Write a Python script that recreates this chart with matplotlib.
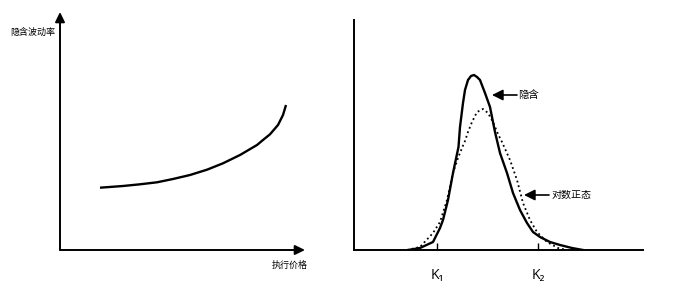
import matplotlib
matplotlib.use("Agg")
import matplotlib.pyplot as plt

plt.rcParams['font.family'] = ['Noto Sans CJK SC', 'DejaVu Sans']

# ---- data (left panel: implied volatility smile) ----
strike = [40, 63, 80, 97, 113, 130, 147, 163, 180, 197, 203, 210, 218, 223, 226]
implied_vol = [62.3, 64, 65.7, 67.7, 71, 75, 80.3, 86.7, 95, 105, 110, 115.7, 125, 135, 145]

# ---- data (right panel: densities) ----
implied_x = [54, 66, 79, 86, 89, 94, 99, 103, 104.5, 106, 109, 111, 114, 117, 120,
             123, 126, 131, 136, 141, 146, 153, 159, 166, 173, 179, 186, 196, 206,
             218, 229]
implied_y = [0, 2, 8, 22, 30, 50, 77, 96, 103, 123, 147, 160, 170, 174, 175,
             173, 170, 157, 143, 118, 97, 77, 57, 40, 27, 18, 13, 8, 5,
             2, 0]
lognorm_x = [53, 66, 79, 86, 93, 99, 104, 108, 111, 114, 118, 123, 129, 134, 139,
             144, 148, 156, 163, 169, 176, 183, 193, 204, 213]
lognorm_y = [0, 3, 17, 28, 50, 77, 92, 102, 109, 118, 128, 138, 141, 137, 128,
             116, 108, 90, 70, 47, 30, 18, 8, 2, 0]
k_ticks = [83, 184]
k_labels = ['K₁', 'K₂']

W, H = 674, 289
fig = plt.figure(figsize=(W / 100, H / 100), dpi=100)
fig.patch.set_facecolor('white')

def rect(x0, y0, x1, y1):
    return [x0 / W, 1 - y1 / H, (x1 - x0) / W, (y1 - y0) / H]

# ---------------- left panel ----------------
axL = fig.add_axes(rect(60, 12, 305, 250))
axL.set_xlim(0, 245)
axL.set_ylim(0, 238)
for s in axL.spines.values():
    s.set_visible(False)
axL.set_xticks([])
axL.set_yticks([])
axL.patch.set_alpha(0)
arrow = dict(arrowstyle='-|>,head_length=0.45,head_width=0.22', lw=1.4,
             color='black', shrinkA=0, shrinkB=0, mutation_scale=13)
axL.annotate('', xy=(0, 1), xytext=(0, 0), xycoords='axes fraction', arrowprops=arrow)
axL.annotate('', xy=(1, 0), xytext=(0, 0), xycoords='axes fraction', arrowprops=arrow)
axL.plot(strike, implied_vol, color='black', lw=1.7, solid_capstyle='butt',
         solid_joinstyle='round')
axL.text(-5, 218, '隐含波动率', ha='right', va='center', fontsize=6.5, clip_on=False)
axL.text(248, -15, '执行价格', ha='right', va='center', fontsize=6.5, clip_on=False)

# ---------------- right panel ----------------
axR = fig.add_axes(rect(354, 20, 643, 250))
axR.set_xlim(0, 289)
axR.set_ylim(0, 230)
for k in ('top', 'right'):
    axR.spines[k].set_visible(False)
for k in ('left', 'bottom'):
    axR.spines[k].set_linewidth(1.4)
axR.patch.set_alpha(0)
axR.set_yticks([])
axR.set_xticks(k_ticks)
axR.set_xticklabels(k_labels, family=['Open Sans', 'DejaVu Sans'], fontsize=10)
axR.tick_params(axis='x', direction='in', length=5, width=1.0, pad=13)
axR.plot(implied_x, implied_y, color='black', lw=1.7, solid_joinstyle='round')
axR.plot(lognorm_x, lognorm_y, color='black', lw=1.3, linestyle=':')

arrow2 = dict(arrowstyle='-|>,head_length=0.5,head_width=0.25', lw=1.2,
              color='black', shrinkA=0, shrinkB=0, mutation_scale=13)
axR.annotate('', xy=(138, 155), xytext=(163, 155), arrowprops=arrow2)
axR.text(164, 155, '隐含', ha='left', va='center', fontsize=7.5, fontweight='medium')
axR.annotate('', xy=(170, 55), xytext=(195, 55), arrowprops=arrow2)
axR.text(198, 55, '对数正态', ha='left', va='center', fontsize=7.2, fontweight='medium')

fig.savefig('out.png', dpi=100, facecolor='white')
